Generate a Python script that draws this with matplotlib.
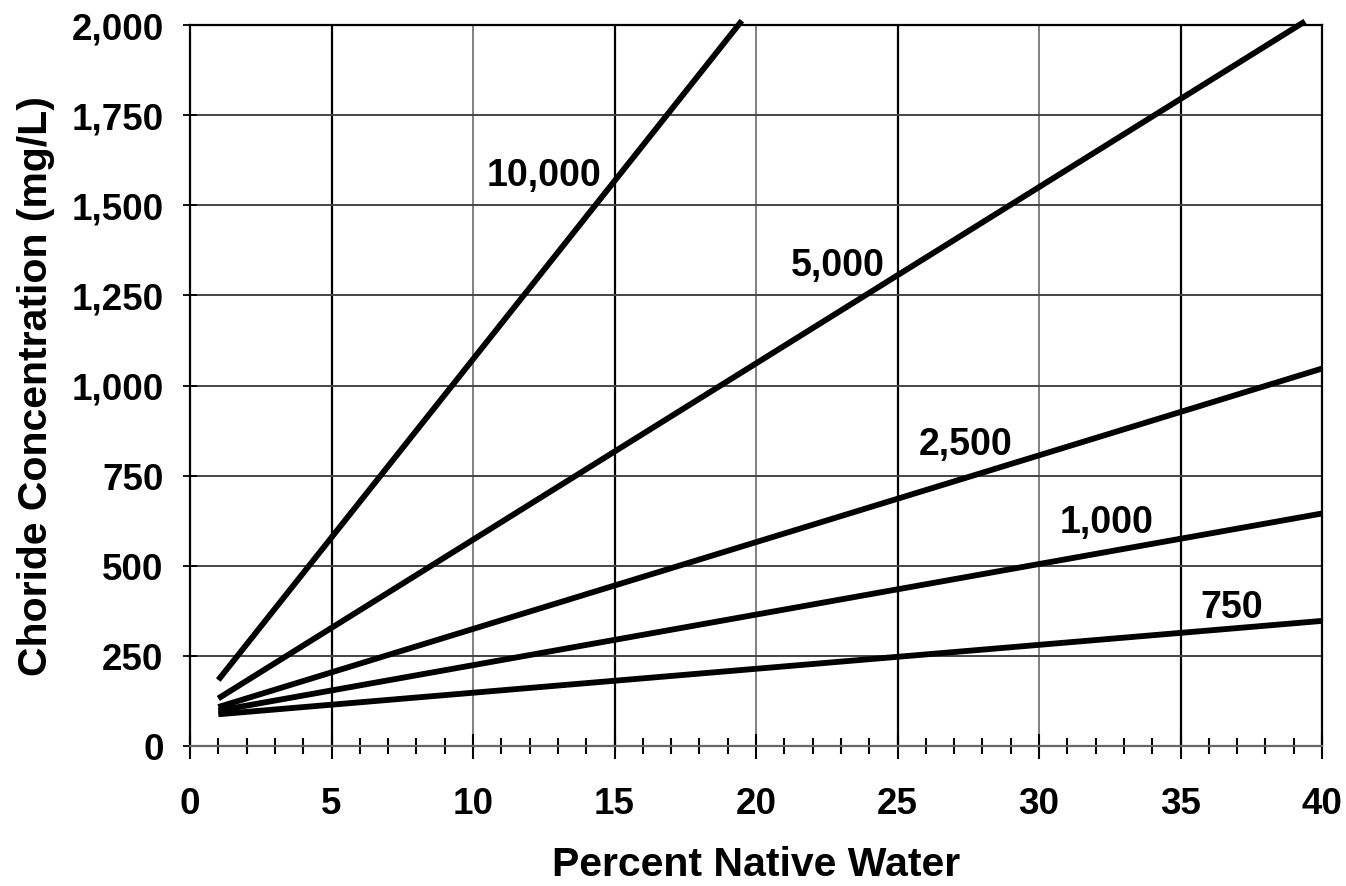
import matplotlib
matplotlib.use("Agg")
import matplotlib.pyplot as plt
from matplotlib.ticker import MultipleLocator, FuncFormatter

plt.rcParams['font.family'] = ['Liberation Sans', 'DejaVu Sans']
plt.rcParams['font.weight'] = 'bold'

# Native water chloride concentration series (mg/L)
series_names = ["10,000", "5,000", "2,500", "1,000", "750"]
x_10000 = [1.0, 19.5]
y_10000 = [183, 2012]
x_5000 = [1.0, 39.4]
y_5000 = [132, 2010]
x_2500 = [1.0, 40.0]
y_2500 = [108, 1047]
x_1000 = [1.0, 40.0]
y_1000 = [98, 645]
x_750 = [1.0, 40.0]
y_750 = [88, 347]

# label anchor positions (data coords)
label_x = [12.5, 22.9, 27.4, 32.4, 36.8]
label_y = [1585, 1333, 838, 620, 385]

x_ticks = list(range(0, 41, 5))
y_ticks = list(range(0, 2001, 250))

fig = plt.figure(figsize=(13.46, 8.87), dpi=100)
ax = fig.add_axes([190/1346, 1-747/887, (1322-190)/1346, (747-26)/887])

ax.set_xlim(0, 40)
ax.set_ylim(0, 2000)

# grid
for xv in x_ticks[1:-1]:
    dark = (xv // 5) % 2 == 1
    ax.axvline(xv, color='black' if dark else '#777777', lw=1.6 if dark else 1.3, zorder=1)
for yv in y_ticks[1:-1]:
    ax.axhline(yv, color='#444444', lw=1.4, zorder=1)

xs = [x_10000, x_5000, x_2500, x_1000, x_750]
ys = [y_10000, y_5000, y_2500, y_1000, y_750]
for xx, yy in zip(xs, ys):
    ax.plot(xx, yy, color='black', lw=4.2, solid_capstyle='butt', clip_on=False, zorder=3)

for name, lx, ly in zip(series_names, label_x, label_y):
    ax.text(lx, ly, name, fontsize=27, fontweight='bold', ha='center', va='center', zorder=4)

ax.set_xticks(x_ticks)
ax.set_yticks(y_ticks)
ax.xaxis.set_minor_locator(MultipleLocator(1))
ax.yaxis.set_major_formatter(FuncFormatter(lambda v, p: f"{int(v):,}"))

ax.tick_params(axis='x', which='major', direction='inout', length=18, width=1.5,
               labelsize=26.5, pad=20)
ax.tick_params(axis='x', which='minor', direction='inout', length=11, width=1.5)
ax.tick_params(axis='y', which='major', direction='inout', length=10, width=1.3,
               labelsize=26.5, pad=14)
for lbl in ax.get_xticklabels() + ax.get_yticklabels():
    lbl.set_fontweight('bold')

for s in ['left', 'right', 'top']:
    ax.spines[s].set_linewidth(1.6)
    ax.spines[s].set_color('black')
ax.spines['bottom'].set_linewidth(1.6)
ax.spines['bottom'].set_color('#666666')

ax.set_xlabel("Percent Native Water", fontsize=29.5, fontweight='bold', labelpad=17)
ax.set_ylabel("Choride Concentration (mg/L)", fontsize=29.5, fontweight='bold', labelpad=12)

fig.savefig("out.png", dpi=100)
